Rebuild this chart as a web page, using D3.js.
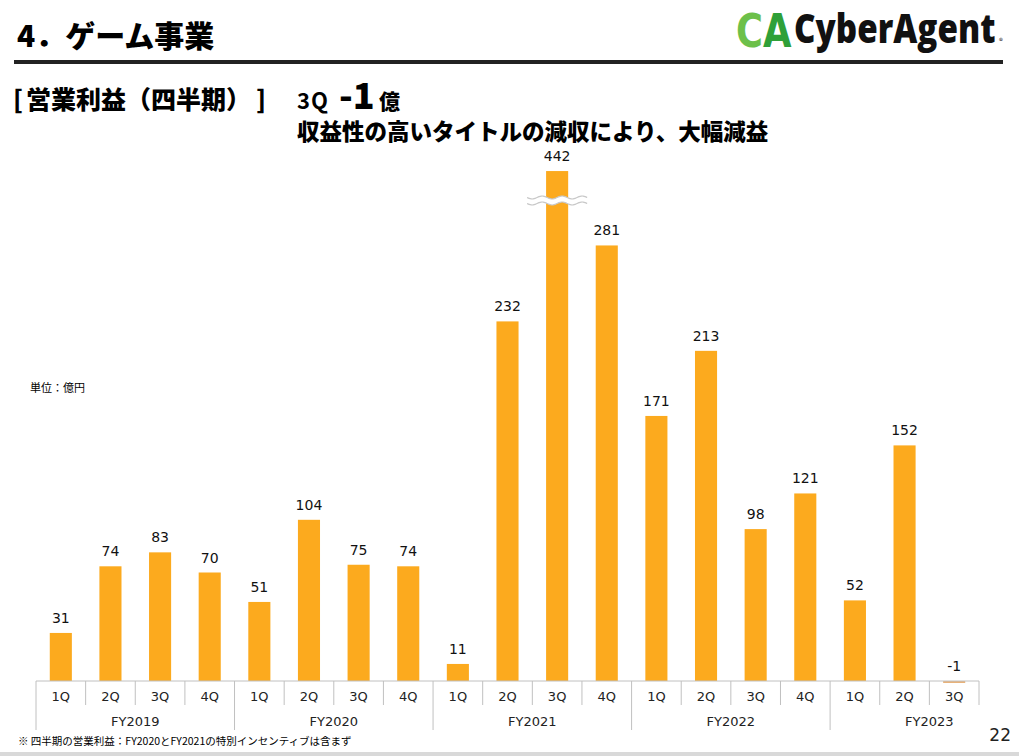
<!DOCTYPE html>
<html>
<head>
<meta charset="utf-8">
<script src="https://cdn.jsdelivr.net/npm/d3@7"></script>
<style>
  body { margin: 0; background: #fff; }
  text { font-family: "Noto Sans CJK JP", "Noto Sans", sans-serif; }
</style>
</head>
<body>
<div id="canvas"></div>
<script>
"use strict";

/* Data */
let years = ["FY2019", "FY2020", "FY2021", "FY2022", "FY2023"];
let quarters = ["1Q", "2Q", "3Q", "4Q"];
let quartersPerYear = [4, 4, 4, 4, 3];
let profits = [31, 74, 83, 70, 51, 104, 75, 74, 11, 232, 442, 281, 171, 213, 98, 121, 52, 152, -1];

/* SVG setup */
let svgWidth = 1019;
let svgHeight = 756;
let barColor = "#fcaa1e";
let axisColor = "#c0c0c0";
let latinFont = "'DejaVu Sans', sans-serif";

let svg = d3.select("#canvas")
  .append("svg")
  .attr("width", svgWidth)
  .attr("height", svgHeight);

/* Build category list */
let cats = [];
years.forEach(function (y, yi) {
  for (let q = 0; q < quartersPerYear[yi]; q++) {
    cats.push({ key: y + "-" + quarters[q], year: y, q: quarters[q], value: profits[cats.length] });
  }
});

/* Scales */
let baseY = 681;
let x = d3.scaleBand().domain(cats.map(d => d.key)).range([36, 979]).padding(0);
let y = d3.scaleLinear().domain([0, 100]).range([baseY, baseY - 155]);
let capValue = 329;   // tall bar is cut (axis break)
let barW = x.bandwidth() * 0.445;

/* Header */
svg.append("text")
  .attr("x", 17).attr("y", 47)
  .style("font-size", "30px").style("font-weight", "900")
  .text("4．ゲーム事業");

svg.append("rect")
  .attr("x", 14).attr("y", 60)
  .attr("width", 989).attr("height", 4)
  .attr("fill", "#222");

/* Logo */
let mark = svg.append("text")
  .attr("transform", "translate(736,47) scale(0.8,1)")
  .style("font-family", latinFont)
  .style("font-size", "46px").style("font-weight", "bold");
mark.append("tspan").attr("fill", "#6cc04a").text("C");
mark.append("tspan").attr("fill", "#2fa038").text("A");

svg.append("text")
  .attr("transform", "translate(794,43) scale(0.83,1)")
  .style("font-family", "'Open Sans'")
  .style("font-size", "40px").style("font-weight", "800")
  .attr("fill", "#111")
  .text("CyberAgent");
svg.append("text")
  .attr("x", 999).attr("y", 44)
  .style("font-size", "8px")
  .attr("fill", "#111")
  .text("®");

/* Titles */
svg.append("text")
  .attr("x", 13).attr("y", 109)
  .style("font-size", "25px").style("font-weight", "900")
  .text("[");
svg.append("text")
  .attr("x", 26).attr("y", 109)
  .style("font-size", "25px").style("font-weight", "900")
  .text("営業利益（四半期）");
svg.append("text")
  .attr("x", 256).attr("y", 109)
  .style("font-size", "25px").style("font-weight", "900")
  .text("]");

svg.append("text")
  .attr("x", 297).attr("y", 109)
  .style("font-size", "22px").style("font-weight", "bold")
  .style("letter-spacing", "1px")
  .text("3Q");
svg.append("text")
  .attr("x", 339).attr("y", 109)
  .style("font-size", "36px").style("font-weight", "900")
  .text("-1");
svg.append("text")
  .attr("x", 379).attr("y", 109)
  .style("font-size", "21px").style("font-weight", "900")
  .text("億");

svg.append("text")
  .attr("x", 297).attr("y", 140)
  .style("font-size", "22.5px").style("font-weight", "900")
  .text("収益性の高いタイトルの減収により、大幅減益");

svg.append("text")
  .attr("x", 30).attr("y", 392)
  .style("font-size", "11px")
  .text("単位：億円");

/* Bars */
svg.selectAll(".bar")
  .data(cats)
  .enter()
  .append("rect")
  .attr("class", "bar")
  .attr("x", d => x(d.key) + (x.bandwidth() - barW) / 2)
  .attr("y", d => d.value >= 0 ? y(Math.min(d.value, capValue)) : baseY)
  .attr("width", barW)
  .attr("height", d => d.value >= 0 ? baseY - y(Math.min(d.value, capValue)) : Math.max(y(d.value) - baseY, 2))
  .attr("fill", d => d.value >= 0 ? barColor : "#e8b27a");

/* Value labels */
svg.selectAll(".lbl")
  .data(cats)
  .enter()
  .append("text")
  .attr("class", "lbl")
  .attr("x", d => x(d.key) + x.bandwidth() / 2)
  .attr("y", d => y(Math.max(0, Math.min(d.value, capValue))) - 10)
  .attr("text-anchor", "middle")
  .style("font-family", latinFont)
  .style("font-size", "14px")
  .attr("fill", "#111")
  .text(d => d.value);

/* Axis break mark on the cut bar */
let cut = cats.filter(d => d.value > capValue);
cut.forEach(function (d) {
  let cx = x(d.key) + x.bandwidth() / 2;
  let yb = y(310);
  let wave = function (y0) {
    return d3.range(0, 61, 2).map(i => [cx - 30 + i, y0 + 1.6 * Math.sin(i / 60 * Math.PI * 6)]);
  };
  let top = wave(yb - 3);
  let bot = wave(yb + 3);
  let line = d3.line().curve(d3.curveBasis);
  svg.append("path")
    .attr("d", line(top.concat(bot.slice().reverse())) + "Z")
    .attr("fill", "#fff");
  svg.append("path").attr("d", line(top)).attr("fill", "none").attr("stroke", "#c8c8c8").attr("stroke-width", 1.2);
  svg.append("path").attr("d", line(bot)).attr("fill", "none").attr("stroke", "#c8c8c8").attr("stroke-width", 1.2);
});

/* Category axis */
svg.append("line")
  .attr("x1", 36).attr("x2", 979)
  .attr("y1", baseY).attr("y2", baseY)
  .attr("stroke", axisColor);

svg.selectAll(".qtick")
  .data(cats)
  .enter()
  .append("line")
  .attr("x1", d => x(d.key)).attr("x2", d => x(d.key))
  .attr("y1", baseY).attr("y2", d => d.q === "1Q" ? 730 : 705)
  .attr("stroke", axisColor);

svg.append("line")
  .attr("x1", 979).attr("x2", 979)
  .attr("y1", baseY).attr("y2", 705)
  .attr("stroke", axisColor);

svg.selectAll(".qlbl")
  .data(cats)
  .enter()
  .append("text")
  .attr("x", d => x(d.key) + x.bandwidth() / 2)
  .attr("y", 701)
  .attr("text-anchor", "middle")
  .style("font-family", latinFont)
  .style("font-size", "13px")
  .attr("fill", "#222")
  .text(d => d.q);

svg.selectAll(".ylbl")
  .data(years)
  .enter()
  .append("text")
  .attr("x", d => x(d + "-1Q") + x.step() * 2)
  .attr("y", 726)
  .attr("text-anchor", "middle")
  .style("font-family", latinFont)
  .style("font-size", "13px")
  .attr("fill", "#222")
  .text(d => d);

/* Footnote, page number */
svg.append("text")
  .attr("x", 18).attr("y", 745)
  .style("font-size", "10.5px")
  .text("※ 四半期の営業利益：FY2020とFY2021の特別インセンティブは含まず");

svg.append("text")
  .attr("x", 1011).attr("y", 741)
  .attr("text-anchor", "end")
  .style("font-family", latinFont)
  .style("font-size", "17px")
  .attr("fill", "#222")
  .text("22");

svg.append("rect")
  .attr("x", 0).attr("y", 752)
  .attr("width", svgWidth).attr("height", 4)
  .attr("fill", "#d9d9d9");
</script>
</body>
</html>
